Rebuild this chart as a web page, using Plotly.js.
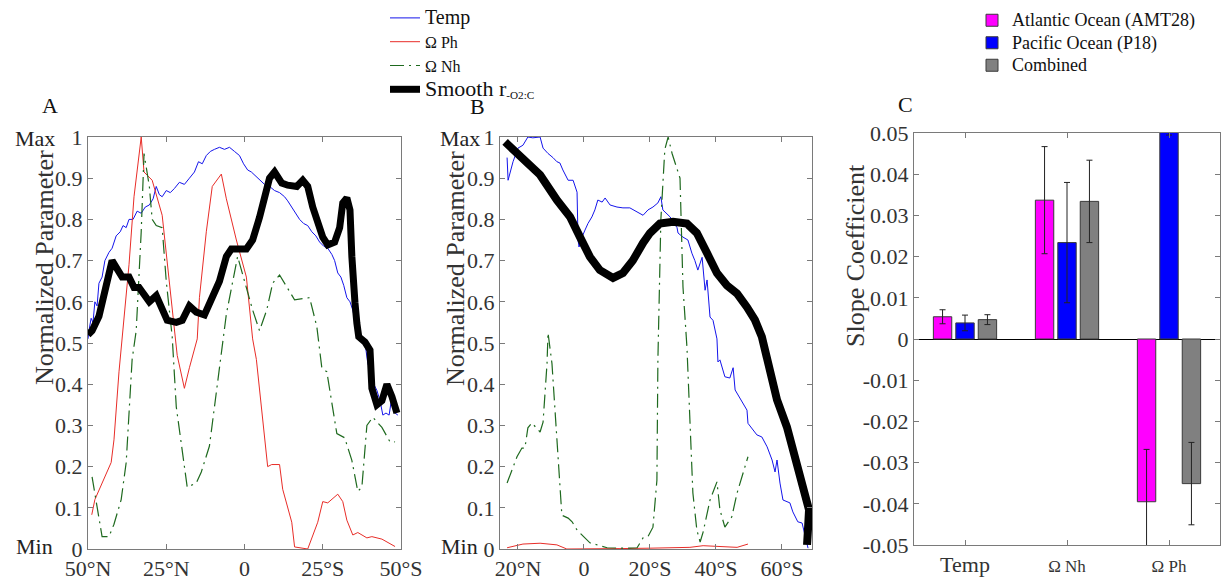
<!DOCTYPE html>
<html>
<head>
<meta charset="utf-8">
<script src="https://cdn.plot.ly/plotly-3.0.1.min.js"></script>
<style>html,body{margin:0;padding:0;background:#fff;}#chart{width:1226px;height:583px;}</style>
</head>
<body>
<div id="chart"></div>
<script>
// ---------- Panel A (AMT28, latitude: negative = N, positive = S) ----------
const latA_temp = [-50,-49.7,-49,-48.4,-47.8,-47.1,-46.5,-45.5,-44.6,-43.3,-42.3,-41,-39.7,-38.8,-37.8,-36.9,-35.6,-34.3,-33,-31.7,-30.4,-29.2,-28.2,-27.2,-26.3,-25,-23.7,-22.4,-20.8,-19.2,-17.6,-16,-14.7,-13.5,-12.2,-10.9,-9.6,-8,-6.4,-4.8,-3.2,-1.6,-0.3,1,2.2,3.5,4.8,6.4,8,9.6,11.2,12.8,13.8,15,16.3,17.6,18.9,20.2,21.5,22.8,24,25.3,26.6,27.9,28.8,29.8,30.8,31.7,32.7,33.7,34.6,35.6,36.5,37.5,38.5,39.4,40.4,41.3,42.3,43.3,44.2,45.2,46.2,47.1,48.1,49];
const tempA = [0.51,0.53,0.56,0.55,0.60,0.59,0.645,0.66,0.70,0.72,0.73,0.76,0.77,0.785,0.78,0.80,0.80,0.82,0.815,0.83,0.835,0.85,0.88,0.86,0.855,0.87,0.865,0.875,0.89,0.885,0.90,0.915,0.94,0.935,0.955,0.965,0.97,0.975,0.97,0.975,0.965,0.955,0.935,0.92,0.915,0.905,0.895,0.885,0.88,0.87,0.865,0.855,0.845,0.83,0.815,0.80,0.79,0.785,0.77,0.76,0.745,0.735,0.73,0.715,0.70,0.67,0.66,0.64,0.61,0.60,0.58,0.545,0.54,0.51,0.50,0.45,0.43,0.40,0.385,0.36,0.325,0.33,0.325,0.37,0.33,0.325];

const latA_ph = [-48.8,-47.8,-42.6,-41.7,-40.1,-39.1,-36.9,-35.3,-33,-32.1,-29.5,-26.3,-24,-21.5,-19.2,-17.6,-15.1,-14.4,-12.2,-10.3,-7.4,-5.8,-2.6,0.6,2.6,3.8,7.4,8.7,11.2,12.2,15.1,16,20.2,23.4,25,26.6,29.8,31.4,32.7,34.6,36.2,39.1,40.7,43.9,48.1];
const phA = [0.083,0.12,0.21,0.265,0.43,0.51,0.69,0.855,1.0,0.915,0.895,0.81,0.645,0.47,0.39,0.44,0.51,0.61,0.77,0.88,0.91,0.85,0.75,0.66,0.51,0.46,0.2,0.205,0.205,0.145,0.065,0.005,0.0,0.065,0.115,0.112,0.133,0.115,0.07,0.034,0.04,0.027,0.03,0.024,0.006];

const latA_nh = [-48.7,-45.5,-43.3,-41.7,-39.4,-37.8,-35.9,-34.6,-33,-32.1,-30.4,-29.5,-28.2,-26.3,-25,-23.1,-21.8,-19.9,-18.3,-15.4,-13.8,-11.2,-9,-7.4,-5.8,-2.2,0.6,2.6,4.8,7.1,9,11.2,16,20.8,23.1,24.7,26.3,29.5,32,34.3,36.2,37.5,39.1,41,43.9,46.5,48.1];
const nhA = [0.175,0.03,0.03,0.06,0.12,0.21,0.46,0.53,0.77,0.96,0.88,0.80,0.785,0.78,0.65,0.515,0.345,0.24,0.15,0.16,0.187,0.25,0.385,0.47,0.57,0.71,0.635,0.58,0.53,0.58,0.645,0.665,0.605,0.61,0.54,0.44,0.43,0.28,0.27,0.215,0.14,0.15,0.30,0.32,0.295,0.26,0.26];

const latA_smooth = [-50,-48.7,-46.5,-44.2,-42.3,-40.7,-39.1,-36.9,-35.3,-33.7,-32.1,-30.4,-28.2,-26.6,-24.7,-21.8,-19.9,-17.6,-15.4,-12.8,-10.3,-8,-5.8,-4.2,0.6,2.6,4.8,6.4,8,9.6,11.9,13.8,16.7,18.6,20.2,21.8,23.4,25,26.6,28.8,30.4,31.4,32.7,33.7,34.3,34.6,35.3,35.9,36.5,38.5,40.1,40.7,42.3,43.9,45.5,47.1,48.7];
const smoothA = [0.52,0.53,0.565,0.635,0.70,0.68,0.66,0.66,0.635,0.635,0.62,0.60,0.615,0.59,0.555,0.55,0.555,0.59,0.575,0.568,0.61,0.65,0.71,0.728,0.728,0.75,0.805,0.855,0.90,0.915,0.888,0.883,0.88,0.895,0.88,0.83,0.79,0.757,0.738,0.745,0.78,0.84,0.852,0.823,0.71,0.645,0.597,0.548,0.515,0.502,0.483,0.39,0.35,0.36,0.40,0.37,0.33];

// ---------- Panel B (P18) ----------
const latB_temp = [-23.3,-23.0,-21.5,-20,-18.5,-17,-15.5,-13.3,-12.4,-10.9,-9.4,-8.2,-7.3,-6.4,-4.8,-3.3,-2.1,-1.8,-1.5,-0.6,0.3,1.2,2.4,3.3,4.2,5.5,6.4,7.9,10,11.8,13.9,16.1,17.9,19.4,20.9,22.4,23.3,23.9,26.1,28.2,28.5,30,31.5,32.7,33.6,34.5,35.8,36.7,37.3,38.2,39.1,40.3,40.6,41.2,42.7,44.2,45.2,45.8,47.3,49.4,49.7,51.2,52.4,53.9,55.5,57,57.9,58.5,59.4,60.3,62.4,63.3,64.8,66.1,67,67.9];
const tempB = [0.95,0.895,0.94,0.973,0.98,1.0,0.998,1.0,0.973,0.96,0.95,0.94,0.937,0.92,0.895,0.895,0.866,0.75,0.733,0.757,0.774,0.79,0.806,0.823,0.847,0.842,0.852,0.835,0.83,0.828,0.828,0.818,0.81,0.823,0.83,0.84,0.855,0.823,0.806,0.78,0.767,0.757,0.75,0.718,0.70,0.677,0.708,0.628,0.653,0.563,0.555,0.51,0.454,0.459,0.418,0.415,0.44,0.386,0.366,0.337,0.305,0.289,0.277,0.272,0.248,0.216,0.187,0.216,0.16,0.119,0.112,0.09,0.066,0.063,0.03,0.002];

const latB_ph = [-23.3,-20.9,-18.5,-13.3,-8.2,-5.2,1.8,10.9,20,32.1,36.1,42.1,46.4,49.7];
const phB = [0.003,0.007,0.012,0.014,0.01,0.0,0.0,0.001,0.002,0.004,0.008,0.006,0.004,0.012];

const latB_nh = [-23.3,-20.3,-18.8,-17.9,-17,-15.8,-13.3,-12.4,-11.2,-10.9,-9.7,-7.9,-6.7,-4.8,-3.6,-2.1,0.3,1.8,7,11.8,16.1,17.9,19.4,20.9,22.1,22.4,23.3,24.5,25.5,26.7,29.1,29.7,30,31.2,32.1,33,34.2,35.2,36.1,38.2,40.3,41.2,42.7,44.8,46.4,48.2,49.7];
const nhB = [0.16,0.224,0.245,0.245,0.294,0.306,0.284,0.308,0.45,0.525,0.45,0.24,0.082,0.075,0.066,0.046,0.027,0.015,0.003,0.002,0.003,0.027,0.03,0.053,0.167,0.46,0.80,0.97,1.0,0.96,0.90,0.75,0.636,0.49,0.289,0.136,0.046,0.017,0.041,0.119,0.163,0.095,0.053,0.078,0.136,0.184,0.224];

const latB_smooth = [-23.9,-18.5,-13.3,-8.2,-4.2,-1.2,1.8,4.8,8.8,11.8,14.8,17.9,20,23,27,31.2,34.2,37.3,40.3,43.3,46.4,49.4,51.8,53.9,55.8,58.5,61.5,63.3,65.5,67.3,68.2,67.9,67.6];
const smoothB = [0.988,0.944,0.908,0.847,0.806,0.757,0.709,0.677,0.658,0.67,0.70,0.743,0.767,0.79,0.794,0.79,0.767,0.718,0.67,0.64,0.62,0.587,0.556,0.515,0.442,0.362,0.296,0.24,0.184,0.13,0.095,0.05,0.01];

// ---------- Panel C (slope coefficients) ----------
const categories = ['Temp', 'Ω Nh', 'Ω Ph'];
const catPos = [1, 2, 3];
const atlantic = [0.0054, 0.0337, -0.0395];
const atlanticErr = [0.0017, 0.013, 0.0127];
const pacific = [0.0039, 0.0234, 0.07];
const pacificErr = [0.0019, 0.0146, 0.0205];
const combined = [0.0047, 0.0334, -0.0351];
const combinedErr = [0.0012, 0.010, 0.010];

const latTicksA = [-50, -25, 0, 25, 50];
const latLabelsA = ['50°N', '25°N', '0', '25°S', '50°S'];
const latTicksB = [-20, 0, 20, 40, 60];
const latLabelsB = ['20°N', '0', '20°S', '40°S', '60°S'];
const normTicks = [0,0.1,0.2,0.3,0.4,0.5,0.6,0.7,0.8,0.9,1];
const normLabels = ['0','0.1','0.2','0.3','0.4','0.5','0.6','0.7','0.8','0.9','1'];
const slopeTicks = [-0.05,-0.04,-0.03,-0.02,-0.01,0,0.01,0.02,0.03,0.04,0.05];
const slopeLabels = ['-0.05','-0.04','-0.03','-0.02','-0.01','0','0.01','0.02','0.03','0.04','0.05'];

// ---------- styling ----------
const FONT = 'Liberation Serif';
const W = 1226, H = 583;
const px = v => v / W;
const py = v => 1 - v / H;
const C_TEMP = 'rgb(20,20,235)', C_PH = 'rgb(232,45,40)', C_NH = 'rgb(30,105,30)';
const NH_DASH = '14px,5px,2px,5px';

const traces = [
  {x: latA_temp, y: tempA, xaxis: 'x', yaxis: 'y', mode: 'lines', name: '<span style="font-size:20px">Temp</span>', line: {color: C_TEMP, width: 1}},
  {x: latA_ph, y: phA, xaxis: 'x', yaxis: 'y', mode: 'lines', name: 'Ω Ph', line: {color: C_PH, width: 1}},
  {x: latA_nh, y: nhA, xaxis: 'x', yaxis: 'y', mode: 'lines', name: 'Ω Nh', line: {color: C_NH, width: 1.2, dash: NH_DASH}},
  {x: latA_smooth, y: smoothA, xaxis: 'x', yaxis: 'y', mode: 'lines', name: '<span style="font-size:22px">Smooth r</span><sub>-O2:C</sub>', line: {color: '#000', width: 7}},
  {x: latB_temp, y: tempB, xaxis: 'x2', yaxis: 'y2', mode: 'lines', showlegend: false, line: {color: C_TEMP, width: 1}},
  {x: latB_ph, y: phB, xaxis: 'x2', yaxis: 'y2', mode: 'lines', showlegend: false, line: {color: C_PH, width: 1}},
  {x: latB_nh, y: nhB, xaxis: 'x2', yaxis: 'y2', mode: 'lines', showlegend: false, line: {color: C_NH, width: 1.2, dash: NH_DASH}},
  {x: latB_smooth, y: smoothB, xaxis: 'x2', yaxis: 'y2', mode: 'lines', showlegend: false, line: {color: '#000', width: 8}},
  {type: 'bar', x: catPos, y: atlantic, xaxis: 'x3', yaxis: 'y3', name: '<span style="font-size:18px">Atlantic Ocean (AMT28)</span>', legend: 'legend2',
   marker: {color: '#ff00ff', line: {color: '#3a3a3a', width: 1}},
   error_y: {type: 'data', array: atlanticErr, visible: true, color: '#222', thickness: 1, width: 3}},
  {type: 'bar', x: catPos, y: pacific, xaxis: 'x3', yaxis: 'y3', name: '<span style="font-size:18px">Pacific Ocean (P18)</span>', legend: 'legend2',
   marker: {color: '#0000ff', line: {color: '#3a3a3a', width: 1}},
   error_y: {type: 'data', array: pacificErr, visible: true, color: '#222', thickness: 1, width: 3}},
  {type: 'bar', x: catPos, y: combined, xaxis: 'x3', yaxis: 'y3', name: '<span style="font-size:18px">Combined</span>', legend: 'legend2',
   marker: {color: '#808080', line: {color: '#3a3a3a', width: 1}},
   error_y: {type: 'data', array: combinedErr, visible: true, color: '#222', thickness: 1, width: 3}}
];

const axisBase = {
  showline: true, linecolor: '#7a7a7a', linewidth: 1, mirror: 'ticks',
  ticks: 'inside', ticklen: 5, tickcolor: '#7a7a7a', tickwidth: 1,
  showgrid: false, zeroline: false,
  tickfont: {family: FONT, size: 22, color: '#333'}
};

const yDomA = [py(549), py(137)];
const yDomC = [py(545), py(133)];

function ann(text, x, y, size, extra) {
  return Object.assign({text: text, x: px(x), y: py(y), xref: 'paper', yref: 'paper', showarrow: false,
    xanchor: 'center', yanchor: 'middle', font: {family: FONT, size: size, color: '#222'}}, extra || {});
}

const layout = {
  width: W, height: H, autosize: false,
  margin: {l: 0, r: 0, t: 0, b: 0},
  paper_bgcolor: '#fff', plot_bgcolor: '#fff',
  font: {family: FONT, color: '#222'},
  barmode: 'group', bargap: 0.34, bargroupgap: 0.18,
  xaxis: Object.assign({}, axisBase, {domain: [px(88), px(401)], range: [-50, 50], anchor: 'y', tickvals: latTicksA, ticktext: latLabelsA}),
  yaxis: Object.assign({}, axisBase, {domain: yDomA, range: [0, 1], anchor: 'x', tickvals: normTicks, ticktext: normLabels}),
  xaxis2: Object.assign({}, axisBase, {domain: [px(500), px(812)], range: [-25.45, 69.1], anchor: 'y2', tickvals: latTicksB, ticktext: latLabelsB}),
  yaxis2: Object.assign({}, axisBase, {domain: yDomA, range: [0, 1], anchor: 'x2', tickvals: normTicks, ticktext: normLabels}),
  xaxis3: Object.assign({}, axisBase, {domain: [px(914), px(1220)], range: [0.5, 3.5], anchor: 'y3', tickvals: catPos,
    ticktext: categories.map((c, i) => i === 0 ? c : '<span style="font-size:17px">' + c + '</span>')}),
  yaxis3: Object.assign({}, axisBase, {domain: yDomC, range: [-0.05, 0.05], anchor: 'x3', tickvals: slopeTicks, ticktext: slopeLabels,
    zeroline: true, zerolinecolor: '#000', zerolinewidth: 1}),
  showlegend: true,
  legend: {x: px(385), y: py(1), xanchor: 'left', yanchor: 'top', bgcolor: 'rgba(0,0,0,0)',
    font: {family: FONT, size: 16, color: '#111'}, tracegroupgap: 0, itemwidth: 30},
  legend2: {x: px(972), y: py(4), xanchor: 'left', yanchor: 'top', bgcolor: 'rgba(0,0,0,0)',
    font: {family: FONT, size: 15, color: '#111'}, tracegroupgap: 0},
  annotations: [
    ann('A', 50, 105, 22, {font: {family: FONT, size: 22, color: '#111'}}),
    ann('B', 477, 107, 22, {font: {family: FONT, size: 22, color: '#111'}}),
    ann('C', 905, 104, 22, {font: {family: FONT, size: 22, color: '#111'}}),
    ann('Max', 35, 138, 22),
    ann('Min', 34, 546, 22),
    ann('Max', 460, 138, 22),
    ann('Min', 459, 546, 22),
    ann('Normalized Parameter', 44, 268, 26, {textangle: -90, font: {family: FONT, size: 26, color: '#333'}}),
    ann('Normalized Parameter', 455, 268, 26, {textangle: -90, font: {family: FONT, size: 26, color: '#333'}}),
    ann('Slope Coefficient', 855, 256, 26, {textangle: -90, font: {family: FONT, size: 26, color: '#333'}})
  ]
};

Plotly.newPlot('chart', traces, layout, {staticPlot: true, displayModeBar: false});
</script>
</body>
</html>
